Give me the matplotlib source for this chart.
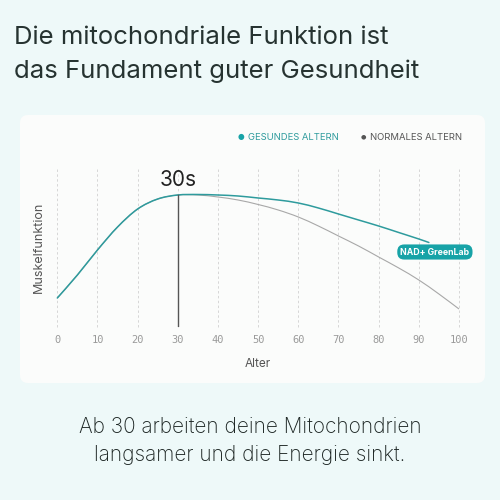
import matplotlib
matplotlib.use("Agg")
import matplotlib.pyplot as plt
import numpy as np
from matplotlib.patches import FancyBboxPatch, PathPatch
from matplotlib.path import Path

# ---- data ----
ages_healthy = [0, 5, 10, 15, 20, 25, 30, 35, 40, 45, 50, 55, 60, 65, 70, 75, 80, 85, 90, 92.5]
healthy = [29, 52, 77, 100, 118, 128, 132, 132.5, 132, 131, 129, 127, 124, 119, 113, 107, 101, 94.5, 88, 84.5]
ages_normal = [0, 5, 10, 15, 20, 25, 30, 35, 40, 45, 50, 55, 60, 65, 70, 75, 80, 85, 90, 95, 100]
normal = [29, 52, 77, 100, 118, 128, 132, 132, 130, 127, 122.5, 117, 110, 101, 91, 81, 70, 59, 47, 33, 18]
xticks = [0, 10, 20, 30, 40, 50, 60, 70, 80, 90, 100]
marker_age = 30
marker_label = "30s"
legend_labels = ["GESUNDES ALTERN", "NORMALES ALTERN"]
tag_label = "NAD+ GreenLab"
title_lines = ["Die mitochondriale Funktion ist", "das Fundament guter Gesundheit"]
footer_lines = ["Ab 30 arbeiten deine Mitochondrien", "langsamer und die Energie sinkt."]

W = H = 500
BG = "#eef9f9"
PANEL = "#fbfcfb"
TEAL = "#2e9b9d"
TAG = "#17a3a7"
DARK = "#263331"

fig = plt.figure(figsize=(5, 5), dpi=100)
fig.patch.set_facecolor(BG)

def fx(px):
    return px / W

def fy(py):
    return 1 - py / H

def smooth_path(xs, ys):
    """Cubic Bezier path through the given points (Catmull-Rom tangents)."""
    pts = np.column_stack([xs, ys]).astype(float)
    n = len(pts)
    verts = [pts[0]]
    codes = [Path.MOVETO]
    for i in range(n - 1):
        p0 = pts[i - 1] if i > 0 else pts[i]
        p1 = pts[i]
        p2 = pts[i + 1]
        p3 = pts[i + 2] if i + 2 < n else pts[i + 1]
        c1 = p1 + (p2 - p0) / 6.0
        c2 = p2 - (p3 - p1) / 6.0
        verts += [c1, c2, p2]
        codes += [Path.CURVE4] * 3
    return Path(verts, codes)

# background axes holding the panel
bg = fig.add_axes([0, 0, 1, 1], zorder=-5)
bg.set_xlim(0, W)
bg.set_ylim(H, 0)
bg.axis("off")
bg.add_patch(FancyBboxPatch((20, 115), 465, 268,
                            boxstyle="round,pad=0,rounding_size=8",
                            facecolor=PANEL, edgecolor="none"))

# titles
for i, y in enumerate([38, 71]):
    fig.text(fx(14), fy(y), title_lines[i], fontsize=18.5, color=DARK,
             family="Inter", va="center", ha="left")
for i, y in enumerate([427, 455]):
    fig.text(0.5, fy(y), footer_lines[i], fontsize=15, color="#1a2321",
             family="Inter", fontweight="light", va="center", ha="center")

# legend
fig.text(fx(241), fy(137), "\u25CF", fontsize=5.5, color=TAG, va="center", ha="center")
fig.text(fx(248), fy(137), legend_labels[0], fontsize=6.8, color=TEAL,
         family="Inter", va="center", ha="left")
fig.text(fx(363), fy(137), "\u25CF", fontsize=4.5, color="#555555", va="center", ha="center")
fig.text(fx(370), fy(137), legend_labels[1], fontsize=6.8, color="#555555",
         family="Inter", va="center", ha="left")

# axes
ax = fig.add_axes([fx(57.3), fy(327), (459 - 57.3) / W, (327 - 168) / H])
ax.set_facecolor("none")
ax.set_xlim(0, 100)
ax.set_ylim(0, 159)
for s in ax.spines.values():
    s.set_visible(False)
for x in xticks:
    ax.axvline(x, color="#d6d6d6", lw=0.7, ls=(0, (2.5, 2.5)), zorder=1, clip_on=False)

ax.add_patch(PathPatch(smooth_path(ages_normal, normal), fill=False,
                       edgecolor="#a8a8a8", lw=0.8, zorder=2, clip_on=False))
ax.add_patch(PathPatch(smooth_path(ages_healthy, healthy), fill=False,
                       edgecolor=TEAL, lw=1.1, zorder=3, clip_on=False,
                       capstyle="round"))
peak = healthy[ages_healthy.index(marker_age)]
ax.plot([marker_age, marker_age], [0, peak], color="#555555", lw=1.0, zorder=4)
ax.text(marker_age, peak + 5, marker_label, fontsize=15, color="#222222",
        family="Inter", ha="center", va="bottom")

ax.text(94.0, 75, tag_label, fontsize=6.3, color="white", fontweight="bold",
        family="Inter", ha="center", va="center", zorder=6,
        bbox=dict(boxstyle="round,pad=0.35,rounding_size=0.8", fc=TAG, ec="none"))

ax.set_xticks(xticks)
ax.set_xticklabels([str(x) for x in xticks], family="DejaVu Sans Mono",
                   fontsize=7.5, color="#9a9a9a")
ax.tick_params(axis="x", length=0, pad=6)
ax.set_yticks([])
ax.set_xlabel("Alter", fontsize=8.5, color="#555555", family="Inter", labelpad=9)
ax.set_ylabel("Muskelfunktion", fontsize=9, color="#555555", family="Inter", labelpad=9)

fig.savefig("out.png", dpi=100, facecolor=BG)
